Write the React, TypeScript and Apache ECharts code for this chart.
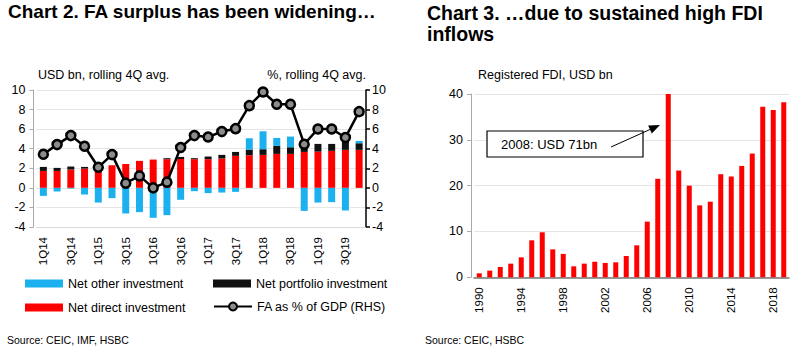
import React, { useEffect, useRef } from "react";
import * as echarts from "echarts";

const quarters = [
  "1Q14", "2Q14", "3Q14", "4Q14", "1Q15", "2Q15", "3Q15", "4Q15",
  "1Q16", "2Q16", "3Q16", "4Q16", "1Q17", "2Q17", "3Q17", "4Q17",
  "1Q18", "2Q18", "3Q18", "4Q18", "1Q19", "2Q19", "3Q19", "4Q19",
];
const netDirect = [1.73, 1.73, 1.87, 1.97, 2.1, 2.31, 2.45, 2.76, 2.89, 2.93, 2.95, 2.93, 2.93, 3.0, 3.27, 3.33, 3.37, 3.47, 3.47, 3.67, 3.7, 3.78, 3.88, 3.88];
const netPortfolio = [0.41, 0.31, 0.31, 0.17, 0, 0, 0, 0, 0, 0.1, 0.21, 0.1, 0.27, 0.37, 0.4, 0.58, 0.58, 0.82, 0.68, 0.62, 0.79, 0.71, 0.85, 0.68];
const netOther = [-0.82, -0.37, -0.07, -0.68, -1.5, -1.05, -2.62, -2.48, -3.06, -2.79, -1.22, -0.34, -0.54, -0.48, -0.41, 1.16, 1.83, 0.81, 1.09, -2.35, -1.5, -1.46, -2.31, 0.24];
const faPctGdp = [3.43, 4.42, 5.34, 4.25, 2.1, 3.4, 0.48, 1.22, 0.0, 0.58, 4.12, 5.34, 5.2, 5.75, 6.05, 8.4, 9.8, 8.54, 8.54, 4.46, 6.02, 6.02, 5.14, 7.79];

const years = [
  "1990", "1991", "1992", "1993", "1994", "1995", "1996", "1997", "1998", "1999",
  "2000", "2001", "2002", "2003", "2004", "2005", "2006", "2007", "2008", "2009",
  "2010", "2011", "2012", "2013", "2014", "2015", "2016", "2017", "2018", "2019",
];
const registeredFdi = [0.87, 1.45, 2.25, 2.98, 4.36, 8.07, 9.82, 6.1, 5.1, 2.4, 2.98, 3.4, 3.13, 3.27, 4.65, 6.98, 12.15, 21.5, 71, 23.3, 20.0, 15.7, 16.5, 22.5, 22.0, 24.3, 27.0, 37.2, 36.5, 38.2];

const FONT = "'Liberation Sans', Arial, Helvetica, sans-serif";
const RED = "#ff0000";
const BLUE = "#1cb1ee";
const BLACK = "#111111";

export default function App() {
  const ref = useRef<HTMLDivElement>(null);
  useEffect(() => {
    if (!ref.current) return;
    const chart = echarts.init(ref.current, undefined, { renderer: "svg" });
    const tickLabel = { fontSize: 11.5, color: "#000", fontFamily: FONT };
    const legendText = { fontSize: 12.5, color: "#000", fontFamily: FONT };
    // arrow geometry for annotation
    const sx = 611, sy = 147, tx = 660, ty = 125;
    const len = Math.hypot(tx - sx, ty - sy);
    const dx = (tx - sx) / len, dy = (ty - sy) / len;
    const bx = tx - 11 * dx, by = ty - 11 * dy;
    const px = -dy, py = dx;
    const option: any = {
      animation: false,
      textStyle: { fontFamily: FONT },
      grid: [
        { left: 36.5, right: 434, top: 90, bottom: 126, containLabel: false },
        { left: 474, right: 11, top: 94, bottom: 75.7, containLabel: false },
      ],
      xAxis: [
        {
          type: "category", gridIndex: 0, data: quarters, boundaryGap: true,
          axisLine: { onZero: false, lineStyle: { color: "#d9d9d9" } },
          axisTick: { show: false },
          axisLabel: { ...tickLabel, rotate: 90, interval: 1, margin: 10 },
        },
        {
          type: "category", gridIndex: 1, data: years, boundaryGap: true,
          axisLine: { lineStyle: { color: "#777", width: 1.5 } },
          axisTick: { show: false },
          axisLabel: { ...tickLabel, rotate: 90, interval: 3, margin: 10 },
        },
      ],
      yAxis: [
        {
          type: "value", gridIndex: 0, min: -4, max: 10, interval: 2, offset: 3,
          axisLine: { show: true, lineStyle: { color: "#aaa" } },
          axisTick: { show: true, length: 4, lineStyle: { color: "#aaa" } },
          axisLabel: { ...tickLabel, fontSize: 12.5, margin: 8 },
          splitLine: { show: true, lineStyle: { color: "#e6e6e6" } },
        },
        {
          type: "value", gridIndex: 0, position: "right", min: -4, max: 10, interval: 2,
          axisLine: { show: true, lineStyle: { color: "#000", width: 1.5 } },
          axisTick: { show: true, length: 4, lineStyle: { color: "#000", width: 1.5 } },
          axisLabel: { ...tickLabel, fontSize: 12.5, margin: 6 },
          splitLine: { show: false },
        },
        {
          type: "value", gridIndex: 1, min: 0, max: 40, interval: 10, offset: 3,
          axisLine: { show: true, lineStyle: { color: "#aaa" } },
          axisTick: { show: true, length: 4, lineStyle: { color: "#aaa" } },
          axisLabel: { ...tickLabel, fontSize: 12.5, margin: 8 },
          splitLine: { show: true, lineStyle: { color: "#e6e6e6" } },
        },
      ],
      legend: [
        { data: ["Net other investment"], left: 25, top: 277, padding: 0, icon: "rect", itemWidth: 38, itemHeight: 8, itemGap: 4, textStyle: legendText },
        { data: ["Net portfolio investment"], left: 213, top: 277, padding: 0, icon: "rect", itemWidth: 38, itemHeight: 8, textStyle: legendText },
        { data: ["Net direct investment"], left: 25, top: 301, padding: 0, icon: "rect", itemWidth: 38, itemHeight: 8, textStyle: legendText },
        { data: ["FA as % of GDP (RHS)"], left: 213, top: 300, padding: 0, itemWidth: 38, itemHeight: 10, textStyle: legendText },
      ],
      series: [
        { name: "Net direct investment", type: "bar", xAxisIndex: 0, yAxisIndex: 0, stack: "fa", data: netDirect, barWidth: 7, itemStyle: { color: RED } },
        { name: "Net portfolio investment", type: "bar", xAxisIndex: 0, yAxisIndex: 0, stack: "fa", data: netPortfolio, barWidth: 7, itemStyle: { color: BLACK } },
        { name: "Net other investment", type: "bar", xAxisIndex: 0, yAxisIndex: 0, stack: "fa", data: netOther, barWidth: 7, itemStyle: { color: BLUE } },
        {
          name: "FA as % of GDP (RHS)", type: "line", xAxisIndex: 0, yAxisIndex: 1, data: faPctGdp, z: 5,
          symbol: "circle", symbolSize: 9,
          lineStyle: { color: "#000", width: 2.5 },
          itemStyle: { color: "#8c8c8c", borderColor: "#000", borderWidth: 2.5 },
        },
        { name: "Registered FDI", type: "bar", xAxisIndex: 1, yAxisIndex: 2, data: registeredFdi, barWidth: 5, clip: true, itemStyle: { color: RED } },
      ],
      graphic: [
        { type: "text", left: 8, top: 2, style: { text: "Chart 2. FA surplus has been widening…", fontSize: 19, fontWeight: "bold", fontFamily: FONT, fill: "#000" } },
        { type: "text", left: 427, top: 2, style: { text: "Chart 3. …due to sustained high FDI\ninflows", fontSize: 19.5, lineHeight: 21.5, fontWeight: "bold", fontFamily: FONT, fill: "#000" } },
        { type: "text", left: 38, top: 68, style: { text: "USD bn, rolling 4Q avg.", fontSize: 12.5, fontFamily: FONT, fill: "#000" } },
        { type: "text", right: 434, top: 68, style: { text: "%, rolling 4Q avg.", fontSize: 12.5, fontFamily: FONT, fill: "#000" } },
        { type: "text", left: 478, top: 68, style: { text: "Registered FDI, USD bn", fontSize: 12.5, fontFamily: FONT, fill: "#000" } },
        { type: "text", left: 7, top: 334, style: { text: "Source: CEIC, IMF, HSBC", fontSize: 10.5, fontFamily: FONT, fill: "#000" } },
        { type: "text", left: 425, top: 334, style: { text: "Source: CEIC, HSBC", fontSize: 10.5, fontFamily: FONT, fill: "#000" } },
        { type: "rect", shape: { x: 487, y: 131, width: 156, height: 26 }, style: { fill: "#fff", stroke: "#000", lineWidth: 1.2 }, z: 10 },
        { type: "text", x: 501, y: 144.5, style: { text: "2008: USD 71bn", fontSize: 13, fontFamily: FONT, fill: "#000", verticalAlign: "middle" }, z: 11 },
        { type: "line", shape: { x1: sx, y1: sy, x2: bx, y2: by }, style: { stroke: "#000", lineWidth: 1 }, z: 11 },
        { type: "polygon", shape: { points: [[tx, ty], [bx + 4.5 * px, by + 4.5 * py], [bx - 4.5 * px, by - 4.5 * py]] }, style: { fill: "#000" }, z: 11 },
      ],
    };
    chart.setOption(option);
    return () => chart.dispose();
  }, []);
  return <div ref={ref} style={{ position: "absolute", left: 0, top: 0, width: 800, height: 353 }} />;
}
